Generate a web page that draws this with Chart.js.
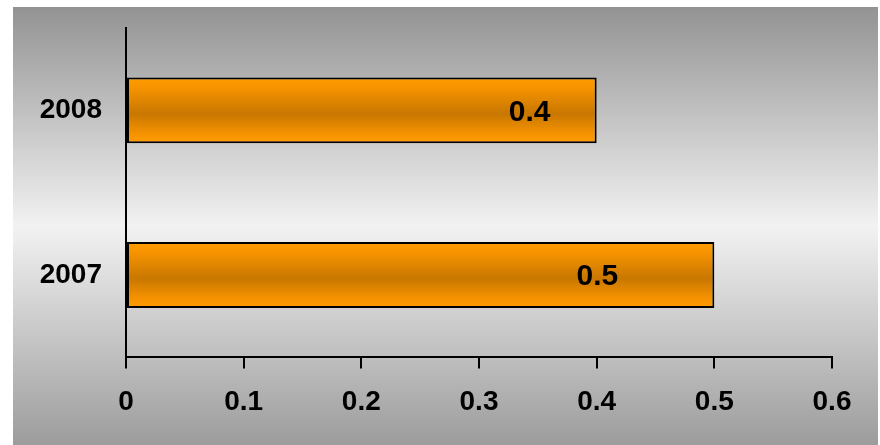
<!DOCTYPE html>
<html>
<head>
<meta charset="utf-8">
<script src="https://cdn.jsdelivr.net/npm/chart.js@4/dist/chart.umd.min.js"></script>
<style>
  html, body { margin: 0; padding: 0; background: #fff; }
  #wrap { width: 880px; height: 445px; position: relative; }
</style>
</head>
<body>
<div id="wrap"><canvas id="chart" width="880" height="445"></canvas></div>
<script>
const years = ['2008', '2007'];
const values = [0.4, 0.5];
const xTicks = [0, 0.1, 0.2, 0.3, 0.4, 0.5, 0.6];

const font = "'Liberation Sans', Arial, sans-serif";

// grey panel behind everything
const panelBg = {
  id: 'panelBg',
  beforeDraw(chart) {
    const c = chart.ctx;
    const g = c.createLinearGradient(0, 7, 0, 445);
    g.addColorStop(0, '#939393');
    g.addColorStop(0.5, '#f2f2f2');
    g.addColorStop(1, '#9c9c9c');
    c.save();
    c.fillStyle = g;
    c.fillRect(13, 7, 865, 438);
    c.restore();
  }
};

// value labels inside bars
const barLabels = {
  id: 'barLabels',
  afterDatasetsDraw(chart, args, opts) {
    const c = chart.ctx;
    const meta = chart.getDatasetMeta(0);
    c.save();
    c.font = 'bold 30px ' + font;
    c.fillStyle = '#000';
    c.textAlign = 'center';
    c.textBaseline = 'middle';
    meta.data.forEach((bar, i) => {
      c.fillText(String(values[i]), bar.x - opts.inset[i], bar.y + 2);
    });
    c.restore();
  }
};

function barFill(ctx) {
  const chart = ctx.chart;
  const y = chart.scales.y;
  if (!y || !chart.chartArea) return '#e88a00';
  const band = (y.bottom - y.top) / years.length;
  const mid = y.getPixelForValue(ctx.dataIndex);
  const half = band * 0.4 / 2;
  const g = chart.ctx.createLinearGradient(0, mid - half, 0, mid + half);
  g.addColorStop(0, '#ff9c00');
  g.addColorStop(0.15, '#f89400');
  g.addColorStop(0.55, '#c87700');
  g.addColorStop(0.85, '#f59200');
  g.addColorStop(1, '#ff9c00');
  return g;
}

new Chart(document.getElementById('chart'), {
  type: 'bar',
  data: {
    labels: years,
    datasets: [{
      data: values,
      backgroundColor: barFill,
      borderColor: '#000',
      borderWidth: 2,
      borderSkipped: false,
      categoryPercentage: 0.8,
      barPercentage: 0.5
    }]
  },
  options: {
    indexAxis: 'y',
    responsive: false,
    animation: false,
    layout: { padding: { top: 28, right: 48, bottom: 9, left: 0 } },
    plugins: {
      legend: { display: false },
      tooltip: { enabled: false },
      barLabels: { inset: [67, 117] }
    },
    scales: {
      x: {
        min: 0,
        max: 0.6,
        afterBuildTicks(scale) {
          scale.ticks = xTicks.map(v => ({ value: v }));
        },
        grid: {
          drawOnChartArea: false,
          drawTicks: true,
          tickLength: 11,
          color: '#000',
          lineWidth: 2
        },
        border: { display: true, color: '#000', width: 2 },
        ticks: {
          color: '#000',
          padding: 17,
          maxRotation: 0,
          font: { family: font, size: 28, weight: 'bold' },
          callback: v => String(v)
        }
      },
      y: {
        afterFit(scale) {
          scale.width = 126;
          scale.paddingTop = 0;
          scale.paddingBottom = 0;
        },
        grid: { drawOnChartArea: false, drawTicks: false },
        border: { display: true, color: '#000', width: 2 },
        ticks: {
          color: '#000',
          padding: 24,
          font: { family: font, size: 28, weight: 'bold' }
        }
      }
    }
  },
  plugins: [panelBg, barLabels]
});
</script>
</body>
</html>
